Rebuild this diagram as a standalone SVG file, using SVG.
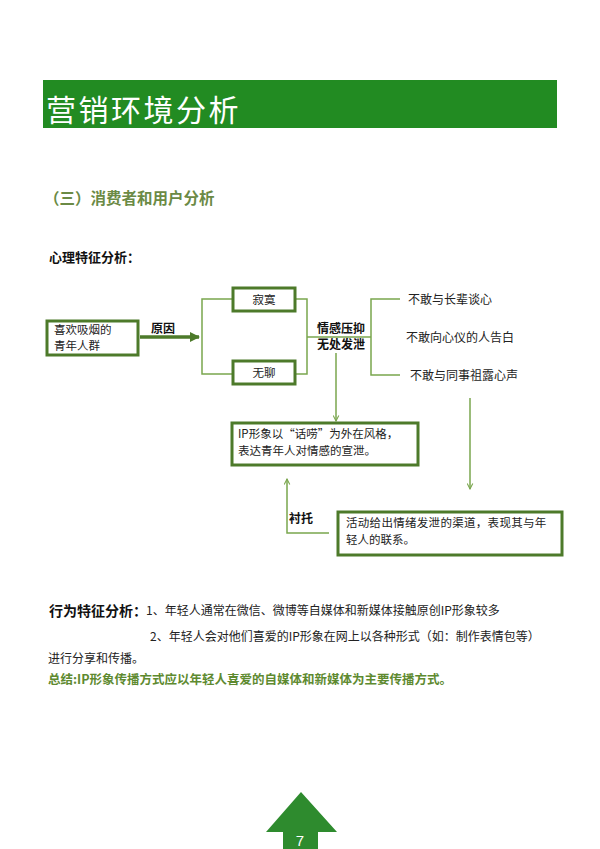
<svg xmlns="http://www.w3.org/2000/svg" width="600" height="849" viewBox="0 0 600 849">
<defs>
<style>
.cjk{font-family:"Noto Sans CJK SC","Liberation Sans",sans-serif;}
.box{fill:#fff;stroke:#4d7a2a;stroke-width:3;}
.ln{fill:none;stroke:#7aa64e;stroke-width:1.5;}
.t{font-size:11.5px;fill:#222;}
.r{font-size:12px;fill:#222;}
.b{font-size:12px;font-weight:bold;fill:#111;}
</style>
<marker id="ah" viewBox="0 0 10 10" refX="9" refY="5" markerWidth="7" markerHeight="7" orient="auto" markerUnits="userSpaceOnUse"><path d="M1,1 L9,5 L1,9" fill="none" stroke="#7aa64e" stroke-width="1.5"/></marker>
<marker id="ahd" viewBox="0 0 10 10" refX="9" refY="5" markerWidth="10" markerHeight="10" orient="auto" markerUnits="userSpaceOnUse"><path d="M0,0 L10,5 L0,10 Z" fill="#4d7a2a"/></marker>
</defs>
<rect width="600" height="849" fill="#fff"/>
<g id="header">
<rect x="43" y="80" width="514" height="48" fill="#228b22"/>
<text x="46" y="121" class="cjk" font-size="30" fill="#fff" letter-spacing="2.5">营销环境分析</text>
</g>
<text x="44" y="204" class="cjk" font-size="15.5" font-weight="bold" fill="#6b8a45">（三）消费者和用户分析</text>
<text x="49" y="262" class="cjk" font-size="13" font-weight="bold" fill="#111">心理特征分析：</text>
<g id="connectors">
<line x1="140" y1="337" x2="199" y2="337" stroke="#4d7a2a" stroke-width="3.5" marker-end="url(#ahd)"/>
<path class="ln" d="M233,299 H202 V374 H233"/>
<path class="ln" d="M295,299 H307 V374 H295"/>
<line class="ln" x1="307" y1="337" x2="371" y2="337"/>
<path class="ln" d="M400,299 H371 V375 H400"/>
<line class="ln" x1="336" y1="353" x2="336" y2="421" marker-end="url(#ah)"/>
<line class="ln" x1="470" y1="398" x2="470" y2="489" marker-end="url(#ah)"/>
<path class="ln" d="M329,533 H287 V479" marker-end="url(#ah)"/>
</g>
<text x="151" y="333" class="cjk b">原因</text>
<text x="289" y="523" class="cjk b">衬托</text>
<g id="n1">
<rect class="box" x="47" y="321" width="91" height="34"/>
<text x="54" y="334" class="cjk t">喜欢吸烟的</text>
<text x="54" y="350" class="cjk t">青年人群</text>
</g>
<g id="n2">
<rect class="box" x="233" y="288" width="62" height="23"/>
<text x="264" y="304" class="cjk t" text-anchor="middle">寂寞</text>
</g>
<g id="n3">
<rect class="box" x="233" y="361" width="62" height="23"/>
<text x="264" y="377" class="cjk t" text-anchor="middle">无聊</text>
</g>
<g id="n4">
<text x="341" y="333" class="cjk b" text-anchor="middle">情感压抑</text>
<text x="341" y="349" class="cjk b" text-anchor="middle">无处发泄</text>
</g>
<g id="n5"><text x="408" y="304" class="cjk r">不敢与长辈谈心</text></g>
<g id="n6"><text x="406" y="342" class="cjk r">不敢向心仪的人告白</text></g>
<g id="n7"><text x="410" y="380" class="cjk r">不敢与同事祖露心声</text></g>
<g id="n8">
<rect class="box" x="232" y="423" width="186" height="42"/>
<text x="238" y="438" class="cjk t">IP形象以“话唠”为外在风格，</text>
<text x="238" y="455" class="cjk t">表达青年人对情感的宣泄。</text>
</g>
<g id="n9">
<rect class="box" x="338" y="512" width="224" height="43"/>
<text x="346" y="527" class="cjk t" letter-spacing="0.3">活动给出情绪发泄的渠道，表现其与年</text>
<text x="346" y="544" class="cjk t">轻人的联系。</text>
</g>
<g id="bottom">
<text x="49" y="616" class="cjk" font-size="14" font-weight="bold" fill="#111">行为特征分析：</text>
<text x="146" y="615" class="cjk" font-size="12" fill="#222">1、年轻人通常在微信、微博等自媒体和新媒体接触原创IP形象较多</text>
<text x="150" y="641" class="cjk" font-size="12" fill="#222">2、年轻人会对他们喜爱的IP形象在网上以各种形式（如：制作表情包等）</text>
<text x="48" y="663" class="cjk" font-size="12" fill="#222">进行分享和传播。</text>
<text x="48" y="684" class="cjk" font-size="12.5" font-weight="bold" fill="#5e8a30">总结:IP形象传播方式应以年轻人喜爱的自媒体和新媒体为主要传播方式。</text>
</g>
<g id="page">
<path d="M301,792 L337,832 H318 V849 H283 V832 H266 Z" fill="#2e8b2e"/>
<text x="300" y="846" font-family="Liberation Sans, sans-serif" font-size="15" fill="#fff" text-anchor="middle">7</text>
</g>
</svg>
